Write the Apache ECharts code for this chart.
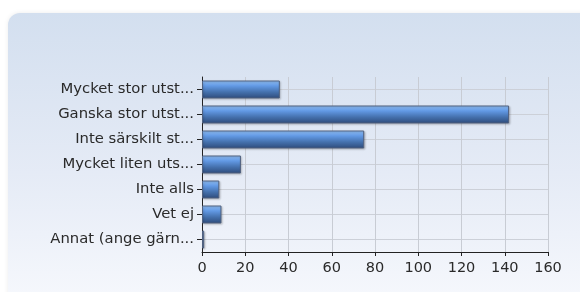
<!DOCTYPE html>
<html>
<head>
<meta charset="utf-8">
<script src="https://cdn.jsdelivr.net/npm/echarts@6/dist/echarts.min.js"></script>
<style>
  html, body { margin: 0; padding: 0; background: #fff; }
  #chart { width: 580px; height: 292px; }
</style>
</head>
<body>
<div id="chart"></div>
<script>
    var categories = ['Mycket stor utst...', 'Ganska stor utst...', 'Inte särskilt st...',
        'Mycket liten uts...', 'Inte alls', 'Vet ej', 'Annat (ange gärn...'];
    var answers = [36, 142, 75, 18, 8, 9, 1];
    var xTicks = [0, 20, 40, 60, 80, 100, 120, 140, 160];

    var myChart = echarts.init(document.getElementById('chart'));

    var option = {
        animation: false,
        textStyle: { fontFamily: 'DejaVu Sans' },
        graphic: [{
            type: 'rect',
            z: -10,
            shape: { x: 8, y: 13, width: 620, height: 320, r: 12 },
            style: {
                fill: new echarts.graphic.LinearGradient(0, 0, 0, 1, [
                    { offset: 0, color: '#d3dfef' },
                    { offset: 0.5, color: '#e5ebf6' },
                    { offset: 1, color: '#fafbfe' }
                ]),
                shadowBlur: 4,
                shadowColor: 'rgba(0,0,0,0.08)'
            }
        }],
        grid: { left: 202, right: 32, top: 77, bottom: 40 },
        xAxis: {
            type: 'value',
            min: xTicks[0],
            max: xTicks[xTicks.length - 1],
            interval: 20,
            axisLine: { show: true, lineStyle: { color: '#222' } },
            axisTick: { show: true, length: 4, lineStyle: { color: '#222' } },
            axisLabel: { color: '#2a2a2a', fontSize: 14.5, margin: 9 },
            splitLine: { lineStyle: { color: '#c8ccd4' } }
        },
        yAxis: {
            type: 'category',
            inverse: true,
            data: categories,
            axisLine: { show: true, lineStyle: { color: '#222' } },
            axisTick: { show: true, alignWithLabel: true, length: 5, lineStyle: { color: '#222' } },
            axisLabel: { color: '#2a2a2a', fontSize: 14.8, margin: 8 },
            splitLine: { show: true, alignWithLabel: true, lineStyle: { color: '#ccd0d8' } }
        },
        series: [{
            type: 'bar',
            data: answers,
            barWidth: 18,
            itemStyle: {
                color: new echarts.graphic.LinearGradient(0, 0, 0, 1, [
                    { offset: 0, color: '#94c3fa' },
                    { offset: 0.3, color: '#6299e4' },
                    { offset: 0.65, color: '#4470ac' },
                    { offset: 1, color: '#2e4b7a' }
                ]),
                borderColor: '#50617f',
                borderWidth: 1,
                shadowBlur: 2,
                shadowColor: 'rgba(0,0,0,0.2)',
                shadowOffsetX: 1,
                shadowOffsetY: 1
            }
        }]
    };

    myChart.setOption(option);
</script>
</body>
</html>
